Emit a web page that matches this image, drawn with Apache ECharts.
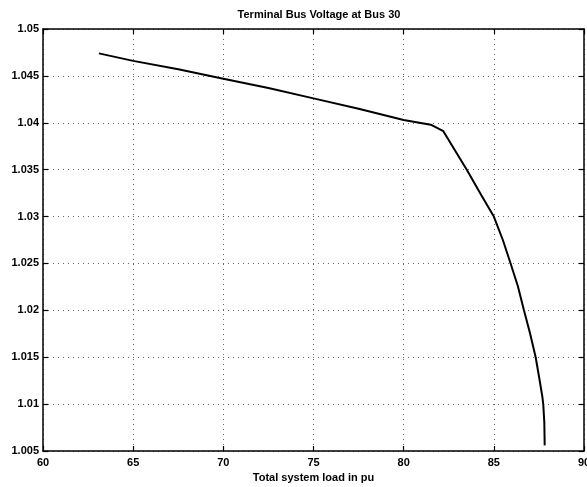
<!DOCTYPE html>
<html>
<head>
<meta charset="utf-8">
<script src="https://cdn.jsdelivr.net/npm/echarts@6/dist/echarts.min.js"></script>
<style>
html,body{margin:0;padding:0;background:#fff;}
#c{width:587px;height:487px;}
</style>
</head>
<body>
<div id="c"></div>
<script>
var titleText = "Terminal Bus Voltage at Bus 30";
var xLabel = "Total system load in pu";
var loadPu = [63.1, 65.0, 67.5, 70.0, 72.5, 75.0, 77.5, 80.0, 81.5, 82.2, 83.5, 84.3, 85.0, 85.5, 85.93, 86.33, 86.67, 87.0, 87.32, 87.5, 87.69, 87.74, 87.8, 87.82];
var voltage = [1.0474, 1.0466, 1.0457, 1.0447, 1.0437, 1.0426, 1.0415, 1.0403, 1.0398, 1.0391, 1.0350, 1.0323, 1.0300, 1.0275, 1.0250, 1.0226, 1.0200, 1.0176, 1.0150, 1.0130, 1.0108, 1.0100, 1.0080, 1.0056];
var xMin = 60, xMax = 90, xStep = 5;
var yMin = 1.005, yMax = 1.05, yStep = 0.005;

var pts = loadPu.map(function(x, i){ return [x, voltage[i]]; });
var font = '"Liberation Sans", Arial, sans-serif';
var gridLine = {show: true, lineStyle: {color: '#666', width: 1, type: [1, 4]}};
var axLine = {show: true, lineStyle: {color: '#000', width: 1.5}};
var tick = {show: true, inside: true, length: 5, lineStyle: {color: '#000', width: 1.2}};

var chart = echarts.init(document.getElementById('c'), null, {renderer: 'canvas'});
chart.setOption({
  animation: false,
  backgroundColor: '#fff',
  title: {
    text: titleText,
    left: 314, top: 4, textAlign: 'center',
    textStyle: {fontFamily: font, fontSize: 11, fontWeight: 'bold', color: '#000'}
  },
  grid: {left: 43, right: 3, top: 29, bottom: 36, containLabel: false, outerBoundsMode: 'none'},
  xAxis: [{
    type: 'value', min: xMin, max: xMax, interval: xStep, position: 'bottom',
    name: xLabel, nameLocation: 'middle', nameGap: 20,
    nameTextStyle: {fontFamily: font, fontSize: 11, fontWeight: 'bold', color: '#000'},
    axisLine: axLine, axisTick: tick, splitLine: gridLine,
    axisLabel: {fontFamily: font, fontSize: 11, fontWeight: 'bold', color: '#000', margin: 6}
  }, {
    type: 'value', min: xMin, max: xMax, interval: xStep, position: 'top',
    axisLine: axLine, axisTick: tick, splitLine: {show: false}, axisLabel: {show: false}
  }],
  yAxis: [{
    type: 'value', min: yMin, max: yMax, interval: yStep, position: 'left',
    axisLine: axLine, axisTick: tick, splitLine: gridLine,
    axisLabel: {fontFamily: font, fontSize: 11, fontWeight: 'bold', color: '#000', margin: 4,
      formatter: function(v){ return String(parseFloat(v.toFixed(3))); }}
  }, {
    type: 'value', min: yMin, max: yMax, interval: yStep, position: 'right',
    axisLine: axLine, axisTick: tick, splitLine: {show: false}, axisLabel: {show: false}
  }],
  series: [{
    type: 'line', data: pts, showSymbol: false, smooth: false,
    lineStyle: {color: '#000', width: 2}
  }]
});
</script>
</body>
</html>
